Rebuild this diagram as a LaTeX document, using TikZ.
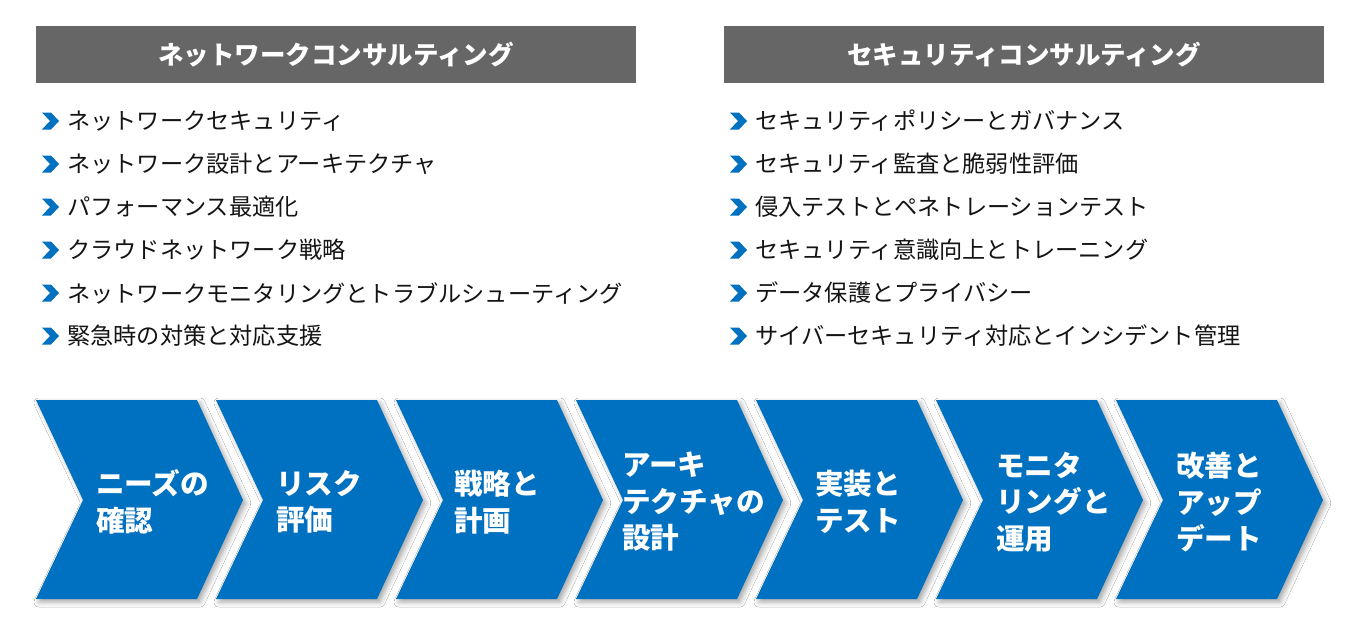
\documentclass[tikz,border=0pt]{standalone}
\usepackage{fontspec}
\setmainfont{Noto Sans CJK JP}
\usetikzlibrary{shadows.blur}
\definecolor{flowblue}{RGB}{0,112,192}
\definecolor{headgray}{RGB}{102,102,102}
\definecolor{bodytext}{RGB}{20,20,20}
\begin{document}
\begin{tikzpicture}[x=1pt,y=-1pt,
  headbox/.style={fill=headgray,draw=none},
  headtext/.style={text=white,font=\fontsize{25.5}{30}\selectfont\bfseries,inner sep=0pt},
  bullettext/.style={text=bodytext,font=\fontsize{23.2}{27}\selectfont,anchor=west,inner sep=0pt},
  bulletmark/.style={fill=flowblue,draw=none},
  chevshape/.style={fill=flowblue,draw=none,blur shadow={shadow xshift=3pt,shadow yshift=-3pt,shadow blur radius=5pt,shadow opacity=35}},
  chevtext/.style={text=white,font=\fontsize{28.6}{36.5}\selectfont\bfseries,anchor=west,align=left,inner sep=0pt}
]
\useasboundingbox (0,0) rectangle (1360,640);
\fill[white] (0,0) rectangle (1360,640);

% headers
\fill[headbox] (36,26) rectangle (636,83);
\fill[headbox] (724,26) rectangle (1324,83);
\node[headtext] (hleft) at (336,55) {ネットワークコンサルティング};
\node[headtext] (hright) at (1024,55) {セキュリティコンサルティング};

% bullets
\newcommand{\bulletitem}[4]{%
  \fill[bulletmark] (#1,#2-8.5) -- (#1+9,#2-8.5) -- (#1+17,#2) -- (#1+9,#2+8.5) -- (#1,#2+8.5) -- (#1+8,#2) -- cycle;
  \node[bullettext] (#3) at (#1+25,#2) {#4};}
\bulletitem{42}{121}{l1}{ネットワークセキュリティ}
\bulletitem{42}{164}{l2}{ネットワーク設計とアーキテクチャ}
\bulletitem{42}{207}{l3}{パフォーマンス最適化}
\bulletitem{42}{250}{l4}{クラウドネットワーク戦略}
\bulletitem{42}{293}{l5}{ネットワークモニタリングとトラブルシューティング}
\bulletitem{42}{336}{l6}{緊急時の対策と対応支援}
\bulletitem{730}{121}{r1}{セキュリティポリシーとガバナンス}
\bulletitem{730}{164}{r2}{セキュリティ監査と脆弱性評価}
\bulletitem{730}{207}{r3}{侵入テストとペネトレーションテスト}
\bulletitem{730}{250}{r4}{セキュリティ意識向上とトレーニング}
\bulletitem{730}{293}{r5}{データ保護とプライバシー}
\bulletitem{730}{336}{r6}{サイバーセキュリティ対応とインシデント管理}

% chevrons
\foreach \i in {0,...,6}{
  \pgfmathsetmacro{\L}{36+180*\i}
  \fill[chevshape] (\L,400) -- (\L+161,400) -- (\L+207,500) -- (\L+161,599) -- (\L,599) -- (\L+47,500) -- cycle;
}
\node[chevtext] (c1) at (96,502) {ニーズの\\確認};
\node[chevtext] (c2) at (276,502) {リスク\\評価};
\node[chevtext] (c3) at (454,502) {戦略と\\計画};
\node[chevtext] (c4) at (622,502) {アーキ\\テクチャの\\設計};
\node[chevtext] (c5) at (815,502) {実装と\\テスト};
\node[chevtext] (c6) at (996,502) {モニタ\\リングと\\運用};
\node[chevtext] (c7) at (1176,502) {改善と\\アップ\\デート};
\end{tikzpicture}
\end{document}
